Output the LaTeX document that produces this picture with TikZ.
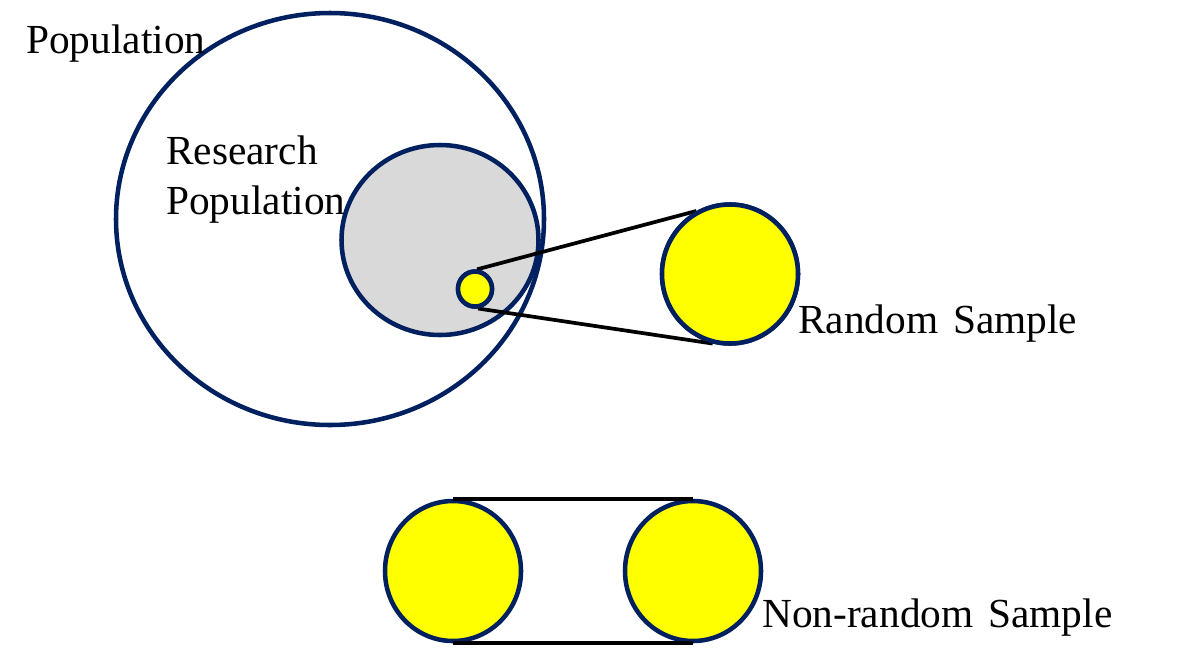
\documentclass[tikz,border=0pt]{standalone}
\usepackage{fontspec}
\setmainfont{Liberation Serif}[WordSpace=1.45]
\usetikzlibrary{shapes.geometric}
\definecolor{navy}{RGB}{0,32,96}
\definecolor{lgray}{RGB}{217,217,217}
\definecolor{yel}{RGB}{255,255,0}
\begin{document}
\begin{tikzpicture}[x=0.75pt,y=-0.75pt,
  ring/.style={ellipse,draw=navy,line width=3.4pt,inner sep=0pt},
  link/.style={draw=black,line width=2.8pt},
  lbl/.style={inner sep=0pt,anchor=base west,font=\fontsize{31pt}{37pt}\selectfont}]
\useasboundingbox (0,0) rectangle (1191,662);
% population circles
\node[ring,minimum width=428*0.75pt,minimum height=412*0.75pt] (pop) at (330,219) {};
\node[ring,fill=lgray,minimum width=197*0.75pt,minimum height=190*0.75pt] (rpop) at (440,240) {};
% random sample
\node[ring,fill=yel,minimum width=34*0.75pt,minimum height=35*0.75pt] (s) at (475,289) {};
\node[ring,fill=yel,minimum width=136*0.75pt,minimum height=139*0.75pt] (rs) at (730,274) {};
\draw[link] (s.84) -- (rs.118);
\draw[link] (s.279) -- (rs.256);
\node[ring,fill=yel,minimum width=34*0.75pt,minimum height=35*0.75pt] at (s) {};
\node[ring,fill=yel,minimum width=136*0.75pt,minimum height=139*0.75pt] at (rs) {};
% non-random sample
\node[ring,fill=yel,minimum width=136*0.75pt,minimum height=140*0.75pt] (n1) at (453,571) {};
\node[ring,fill=yel,minimum width=136*0.75pt,minimum height=140*0.75pt] (n2) at (693,571) {};
\draw[link] (n1.north) -- (n2.north);
\draw[link] (n1.south) -- (n2.south);
% labels
\node[lbl] (tpop) at (26,53) {Population};
\node[lbl] (tres1) at (166,164) {Research};
\node[lbl] (tres2) at (166,214) {Population};
\node[lbl] (trs) at (798,333) {Random Sample};
\node[lbl] (tnrs) at (762,627) {Non-random Sample};
\end{tikzpicture}
\end{document}
